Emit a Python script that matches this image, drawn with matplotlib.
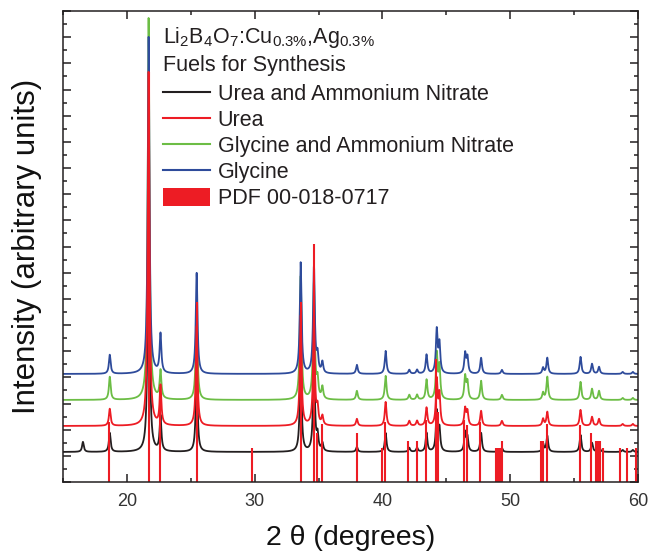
import numpy as np
import matplotlib
matplotlib.use("Agg")
import matplotlib.pyplot as plt
from matplotlib.lines import Line2D
from matplotlib.patches import Patch
from matplotlib.ticker import MultipleLocator

plt.rcParams.update({
    "font.family": ["Liberation Sans", "DejaVu Sans"],
    "mathtext.fontset": "custom",
    "mathtext.rm": "Liberation Sans",
    "mathtext.it": "Liberation Sans:italic",
    "mathtext.default": "regular",
})

# --- data (2 theta in degrees, intensity in tick units) ---
PX = 13.08  # pixels per y tick in the original, used to convert readings

peak_pos = [16.56, 18.66, 21.70, 22.63, 25.46, 33.60, 34.64, 34.92, 35.30, 38.00,
            40.25, 42.10, 42.71, 43.45, 44.25, 44.46, 46.47, 46.65, 47.72, 49.35,
            52.57, 52.90, 55.50, 56.40, 56.95, 58.80, 59.60]

black_base = 30
red_base = 56
green_base = 82
blue_base = 108

black_h = [10, 19, 300, 35, 90, 100, 100, 15, 8, 5, 19, 4, 4, 19, 40, 22, 19, 14, 19, 4, 8, 16, 17, 9, 7, 2, 2]
red_h = [0, 17, 354, 39, 100, 110, 110, 16, 9, 7, 24, 5, 5, 18, 45, 30, 17, 14, 15, 5, 7, 14, 16, 9, 7, 2, 2]
green_h = [0, 23, 382, 28, 95, 123, 117, 18, 12, 9, 24, 5, 5, 20, 45, 32, 23, 17, 19, 5, 7, 23, 18, 11, 9, 2, 2]
blue_h = [0, 19, 337, 39, 101, 111, 107, 17, 11, 9, 23, 4, 4, 19, 43, 29, 20, 16, 16, 4, 6, 16, 17, 10, 7, 2, 2]

pdf_pos = [18.62, 21.72, 22.60, 25.46, 29.77, 33.62, 34.66, 34.87, 35.28, 38.00,
           39.94, 40.20, 42.03, 42.71, 43.42, 44.20, 44.38, 46.42, 46.60, 47.65,
           48.91, 49.04, 49.17, 49.33, 52.44, 52.57, 52.88, 55.44, 56.36, 56.75,
           56.88, 57.01, 57.27, 58.58, 59.10, 59.81]
pdf_h = [60, 410, 95, 180, 34, 180, 238, 49, 58, 49,
         34, 60, 41, 41, 62, 123, 70, 62, 57, 60,
         34, 34, 34, 41, 41, 41, 58, 57, 49, 41,
         41, 41, 34, 34, 34, 34]

labels = ["Urea and Ammonium Nitrate", "Urea", "Glycine and Ammonium Nitrate", "Glycine"]
colors = ["#231f20", "#ed1c24", "#6cbd45", "#2e4b9b"]
PDF_COLOR = "#ed1c24"


def profile(x, base, heights, gamma=0.08):
    y = np.full_like(x, base / PX)
    for p, h in zip(peak_pos, heights):
        y += (h / PX) * gamma**2 / ((x - p) ** 2 + gamma**2)
    return y


x = np.linspace(15, 60, 6001)
series = {
    "black": profile(x, black_base, black_h),
    "red": profile(x, red_base, red_h),
    "green": profile(x, green_base, green_h),
    "blue": profile(x, blue_base, blue_h),
}

fig = plt.figure(figsize=(6.48, 5.52), dpi=100)
ax = fig.add_axes([63 / 648, 70 / 552, 575 / 648, 471 / 552])

lw = 1.3
ax.plot(x, series["black"], color=colors[0], lw=lw)
ax.plot(x, series["green"], color=colors[2], lw=lw)
ax.plot(x, series["blue"], color=colors[3], lw=lw)
ax.plot(x, series["red"], color=colors[1], lw=lw)
ax.vlines(pdf_pos, 0, np.array(pdf_h) / PX, color=PDF_COLOR, lw=1.5)

ax.set_xlim(15, 60)
ax.set_ylim(0, 36)
ax.xaxis.set_major_locator(MultipleLocator(10))
ax.xaxis.set_minor_locator(MultipleLocator(5))
ax.yaxis.set_major_locator(MultipleLocator(2))
ax.yaxis.set_minor_locator(MultipleLocator(1))
ax.tick_params(which="both", direction="in", top=True, right=True, width=1.1, color="#231f20")
ax.tick_params(which="major", length=6)
ax.tick_params(which="minor", length=3)
ax.tick_params(axis="x", labelsize=13, labelcolor="#333333", pad=8)
ax.tick_params(axis="y", labelleft=False)
for s in ax.spines.values():
    s.set_linewidth(1.1)
    s.set_color("#231f20")

ax.set_xlabel("2 θ (degrees)", fontsize=20.5, color="#111111", labelpad=11)
ax.set_ylabel("Intensity (arbitrary units)", fontsize=22.5, color="#111111", labelpad=12)

txt_kw = dict(transform=ax.transAxes, fontsize=15.5, color="#231f20", va="center", ha="left")
ax.text(0.174, 0.944, r"Li$_2$B$_4$O$_7$:Cu$_{0.3\%}$,Ag$_{0.3\%}$", **txt_kw)
ax.text(0.174, 0.885, "Fuels for Synthesis", **txt_kw)

handles = [Line2D([], [], color=c, lw=1.5) for c in colors]
handles.append(Patch(facecolor=PDF_COLOR, edgecolor="none"))
ax.legend(handles, labels + ["PDF 00-018-0717"], loc="upper left",
          bbox_to_anchor=(0.174, 0.846), frameon=False, fontsize=15.5,
          handlelength=2.2, handleheight=0.9, handletextpad=0.33,
          labelspacing=0.22, borderpad=0, borderaxespad=0, labelcolor="#231f20")

fig.savefig("out.png", dpi=100)
